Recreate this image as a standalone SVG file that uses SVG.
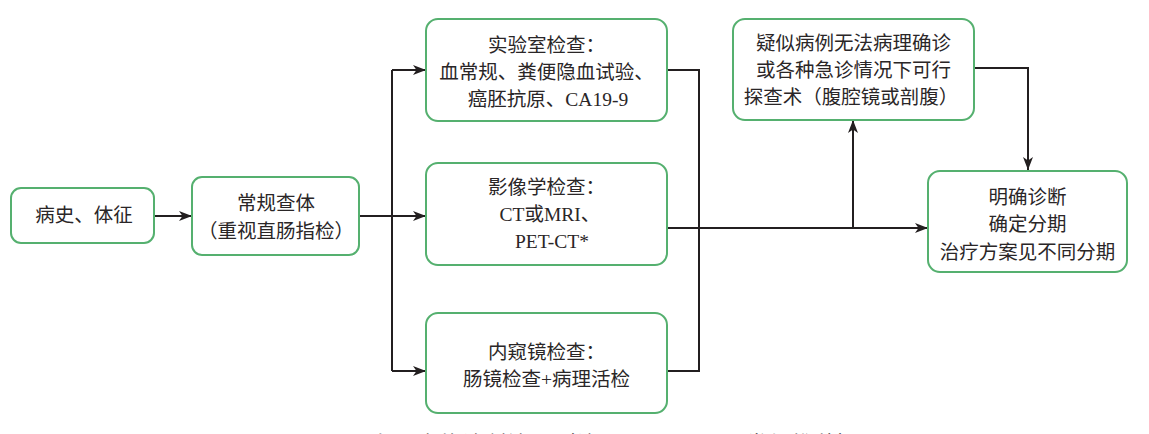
<svg xmlns="http://www.w3.org/2000/svg" width="1149" height="434" viewBox="0 0 1149 434">
<style>
.box{fill:#fff;stroke:#55b06f;stroke-width:2}
.t{font-family:"Liberation Serif","Noto Sans CJK SC",serif;font-size:19.5px;fill:#2a2627;text-anchor:middle}
.c{fill:none;stroke:#231f20;stroke-width:2}
.cap{font-family:"Liberation Serif","Noto Sans CJK SC",serif;font-size:21px;fill:#333}
</style>
<defs>
<marker id="ah" viewBox="0 0 13 10" refX="13" refY="5" markerWidth="13" markerHeight="10" markerUnits="userSpaceOnUse" orient="auto">
<path d="M0,0 L13,5 L0,10 L3.5,5 Z" fill="#231f20"/>
</marker>
</defs>
<rect width="1149" height="434" fill="#fff"/>
<g id="connectors">
<path class="c" d="M155,216 H192" marker-end="url(#ah)"/>
<path class="c" d="M359,216 H426" marker-end="url(#ah)"/>
<path class="c" d="M392,70 V371"/>
<path class="c" d="M392,70 H426" marker-end="url(#ah)"/>
<path class="c" d="M392,371 H426" marker-end="url(#ah)"/>
<path class="c" d="M667,70 H699 V371 H667"/>
<path class="c" d="M667,228 H928" marker-end="url(#ah)"/>
<path class="c" d="M853,228 V120" marker-end="url(#ah)"/>
<path class="c" d="M974,68 H1028 V170" marker-end="url(#ah)"/>
</g>
<g id="history">
<rect class="box" x="11" y="188" width="143" height="55" rx="10"/>
<text class="t" x="84" y="222">病史、体征</text>
</g>
<g id="physical">
<rect class="box" x="192" y="177" width="167" height="78" rx="10"/>
<text class="t" x="276" y="210">常规查体</text>
<text class="t" x="276" y="238">（重视直肠指检）</text>
</g>
<g id="lab">
<rect class="box" x="426" y="19" width="241" height="102" rx="12"/>
<text class="t" x="546.5" y="52">实验室检查：</text>
<text class="t" x="546.5" y="79">血常规、粪便隐血试验、</text>
<text class="t" x="548" y="106">癌胚抗原、CA19-9</text>
</g>
<g id="imaging">
<rect class="box" x="426" y="163" width="241" height="102" rx="12"/>
<text class="t" x="546.5" y="194">影像学检查：</text>
<text class="t" x="550" y="221">CT或MRI、</text>
<text class="t" x="552" y="248">PET-CT*</text>
</g>
<g id="endoscopy">
<rect class="box" x="426" y="313" width="241" height="100" rx="12"/>
<text class="t" x="546.5" y="359">内窥镜检查：</text>
<text class="t" x="546.5" y="386">肠镜检查+病理活检</text>
</g>
<g id="explore">
<rect class="box" x="733" y="19" width="241" height="101" rx="12"/>
<text class="t" x="853.5" y="50">疑似病例无法病理确诊</text>
<text class="t" x="853.5" y="77">或各种急诊情况下可行</text>
<text class="t" x="851" y="104">探查术（腹腔镜或剖腹）</text>
</g>
<g id="diagnosis">
<rect class="box" x="928" y="171" width="199" height="101" rx="12"/>
<text class="t" x="1027.5" y="204">明确诊断</text>
<text class="t" x="1027.5" y="231">确定分期</text>
<text class="t" x="1027.5" y="259">治疗方案见不同分期</text>
</g>
<g id="caption">
<text class="cap" y="451"><tspan x="297" font-weight="bold">图 1</tspan><tspan x="370" letter-spacing="2">直肠癌的诊断流程（注：PET-CT</tspan><tspan x="723" letter-spacing="2">不常规推荐）</tspan></text>
</g>
</svg>
